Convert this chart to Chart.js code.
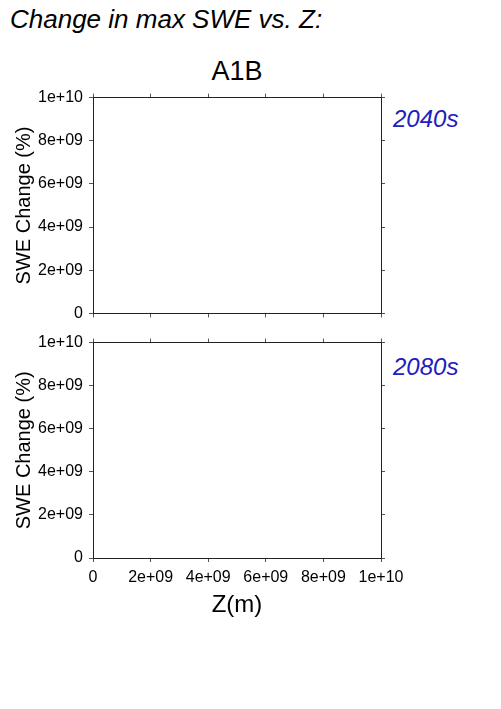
<!DOCTYPE html>
<html>
<head>
<meta charset="utf-8">
<script src="https://cdn.jsdelivr.net/npm/chart.js@4/dist/chart.umd.min.js"></script>
<style>
  html, body { margin: 0; padding: 0; background: #fff; }
  body { width: 501px; height: 709px; position: relative; overflow: hidden; font-family: "Liberation Sans", Arial, sans-serif; }
  .txt { position: absolute; white-space: nowrap; line-height: 1; }
  #mainTitle { left: 10px; top: 6px; font-size: 26px; font-style: italic; color: #000; }
  #scenario { left: 93px; width: 288px; top: 58px; font-size: 27px; text-align: center; color: #000; }
  .period { left: 393px; font-size: 24px; font-style: italic; color: #2020c0; }
  #p1 { top: 107px; }
  #p2 { top: 355px; }
  .wrap { position: absolute; left: 0; width: 501px; }
  #wrap1 { top: 82px; height: 247px; }
  #wrap2 { top: 327px; height: 314px; }
</style>
</head>
<body>
<div class="txt" id="mainTitle">Change in max SWE vs. Z:</div>
<div class="txt" id="scenario">A1B</div>
<div class="txt period" id="p1">2040s</div>
<div class="txt period" id="p2">2080s</div>
<div class="wrap" id="wrap1"><canvas id="chart1"></canvas></div>
<div class="wrap" id="wrap2"><canvas id="chart2"></canvas></div>
<script>
// data (both panels are empty in the reference)
const periods = ["2040s", "2080s"];
const elev2040s = [];
const swe2040s = [];
const elev2080s = [];
const swe2080s = [];

// axis ticks
const tickValues = [0, 2e9, 4e9, 6e9, 8e9, 1e10];
const tickLabels = ["0", "2e+09", "4e+09", "6e+09", "8e+09", "1e+10"];
const axisMin = 0, axisMax = 1e10;

const FONT = "'Liberation Sans', Arial, sans-serif";
const lineCol = "#222";

function fixTicks(axis) {
    axis.ticks = tickValues.map(v => ({ value: v }));
}
function tickText(v) {
    const i = tickValues.indexOf(v);
    return i >= 0 ? tickLabels[i] : "";
}
function sized(w, h) {
    return (axis) => {
        if (w != null) axis.width = w;
        if (h != null) axis.height = h;
    };
}

function baseAxis(pos, showLabels, fitFn, title) {
    return {
        type: "linear",
        position: pos,
        min: axisMin, max: axisMax,
        afterBuildTicks: fixTicks,
        afterFit: fitFn,
        border: { display: true, color: lineCol, width: 1 },
        grid: { drawOnChartArea: false, drawTicks: true, tickLength: 4, color: "#555", lineWidth: 1 },
        ticks: {
            display: showLabels,
            color: "#000",
            padding: 6,
            maxRotation: 0,
            autoSkip: false,
            font: { family: FONT, size: 16 },
            callback: tickText
        },
        title: title || { display: false }
    };
}

function makePanel(canvasId, xs, ys, label, opts) {
    const pts = xs.map((x, i) => ({ x: x, y: ys[i] }));
    const scales = {
        x: baseAxis("bottom", opts.xLabels, sized(null, opts.bottomH), opts.xTitle),
        xTop: baseAxis("top", false, sized(null, opts.topH)),
        y: baseAxis("left", true, sized(93, null), {
            display: true, text: "SWE Change (%)", color: "#000",
            font: { family: FONT, size: 20 }, padding: { top: 12, bottom: 0 }
        }),
        yRight: baseAxis("right", false, sized(120, null))
    };
    return new Chart(document.getElementById(canvasId), {
        type: "scatter",
        data: { datasets: [{ label: label, data: pts, pointRadius: 3, backgroundColor: "#000", xAxisID: "x", yAxisID: "y" }] },
        options: {
            responsive: true,
            maintainAspectRatio: false,
            animation: false,
            layout: { padding: 0 },
            plugins: { legend: { display: false }, tooltip: { enabled: false } },
            scales: scales
        }
    });
}

makePanel("chart1", elev2040s, swe2040s, periods[0], {
    xLabels: false, topH: 8, bottomH: 15
});
makePanel("chart2", elev2080s, swe2080s, periods[1], {
    xLabels: true, topH: 8, bottomH: 83,
    xTitle: {
        display: true, text: "Z(m)", color: "#000",
        font: { family: FONT, size: 24 }, padding: { top: 0, bottom: 21 }
    }
});
</script>
</body>
</html>
